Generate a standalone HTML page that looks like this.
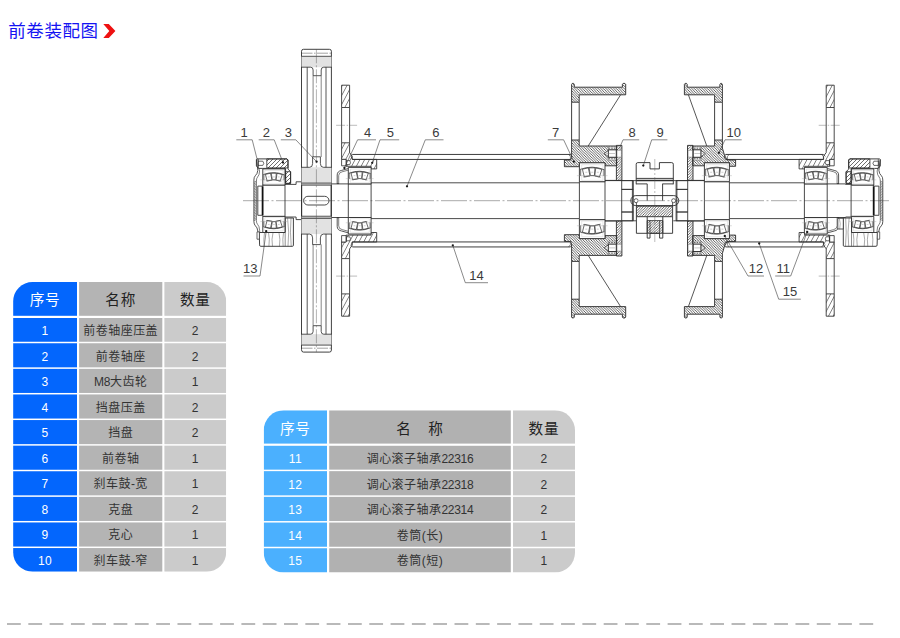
<!DOCTYPE html>
<html lang="zh-CN">
<head>
<meta charset="utf-8">
<title>前卷装配图</title>
<style>
html,body{margin:0;padding:0;background:#fff;}
body{width:900px;height:638px;position:relative;overflow:hidden;font-family:"Liberation Sans","Noto Sans CJK SC",sans-serif;}
.title{position:absolute;left:8.3px;top:19.4px;font-size:17.5px;line-height:24px;color:#1414f2;letter-spacing:0.55px;white-space:nowrap;font-weight:400;}
.chev{position:absolute;left:102px;top:23px;}
.c{position:absolute;text-align:center;font-size:12px;color:#333;white-space:nowrap;letter-spacing:0.45px;}
.hd{font-size:14.6px;color:#222;letter-spacing:0.8px;}
.c0{color:#fff;}
.hd.c0{color:#fff;}
.t1 .b0{fill:#0366fd;}
.t1 .b1{fill:#b4b4b4;}
.t1 .b2{fill:#cbcbcb;}
.t2 .b0{fill:#4bb0fe;}
.t2 .b1{fill:#b1b1b1;}
.t2 .b2{fill:#cbcbcb;}
.dash{position:absolute;left:0;top:622.3px;width:900px;height:4px;}
.n{letter-spacing:-0.3px;}
svg.dr{position:absolute;left:0;top:0;}
</style>
</head>
<body>
<div class="title">前卷装配图</div>
<svg class="chev" width="16" height="16" viewBox="0 0 16 16"><polygon points="1.3,1.1 6.8,1.1 13.4,8 6.8,14.9 1.3,14.9 7.3,8" fill="#ee1111"/></svg>
<svg class="dr" width="900" height="638" viewBox="0 0 900 638">
<defs>
<pattern id="h1" width="4" height="4" patternUnits="userSpaceOnUse"><path d="M-1 5 L5 -1 M-1 1 L1 -1 M3 5 L5 3" stroke="#2e2e2e" stroke-width="0.7" fill="none"/></pattern>
<pattern id="h2" width="2.6" height="2.6" patternUnits="userSpaceOnUse"><path d="M-0.65 -0.65 L3.25 3.25 M-0.65 1.95 L0.65 3.25 M1.95 -0.65 L3.25 0.65" stroke="#2e2e2e" stroke-width="0.75" fill="none"/></pattern>
<pattern id="h3" width="4.2" height="4.2" patternUnits="userSpaceOnUse" patternTransform="rotate(28)"><line x1="2.1" y1="0" x2="2.1" y2="4.2" stroke="#333" stroke-width="0.55"/></pattern>
<pattern id="h4" width="2.6" height="2.6" patternUnits="userSpaceOnUse"><path d="M-0.65 3.25 L3.25 -0.65 M-0.65 0.65 L0.65 -0.65 M1.95 3.25 L3.25 1.95" stroke="#2e2e2e" stroke-width="0.7" fill="none"/></pattern>
</defs>
<line x1="243" y1="200.7" x2="889" y2="200.7" stroke="#555" stroke-width="0.5" stroke-dasharray="26 2.5 2 2.5"/>
<polyline points="257.8,200.7 257.8,186.1 262.8,186.1 262.8,185 285,185 285,184.4 296.1,184.4 296.1,181.8 301.7,181.8 301.7,183.4 331.1,183.4 331.1,183.9 371.1,183.9 371.1,182.8 579.4,182.8 579.4,181.7 605,181.7 605,180.6 633.3,180.6 633.3,200.7" fill="none" stroke="#2b2b2b" stroke-width="0.85" stroke-linejoin="round" />
<polyline points="257.8,200.7 257.8,215.3 262.8,215.3 262.8,216.4 285,216.4 285,217.0 296.1,217.0 296.1,219.6 301.7,219.6 301.7,218.0 331.1,218.0 331.1,217.5 371.1,217.5 371.1,218.6 579.4,218.6 579.4,219.7 605,219.7 605,220.8 633.3,220.8 633.3,200.7" fill="none" stroke="#2b2b2b" stroke-width="0.85" stroke-linejoin="round" />
<line x1="262.6" y1="186.3" x2="262.6" y2="215.1" stroke="#111" stroke-width="1.8" />
<line x1="285" y1="185" x2="285" y2="216.4" stroke="#2b2b2b" stroke-width="0.85" />
<line x1="301.7" y1="181.8" x2="301.7" y2="219.6" stroke="#2b2b2b" stroke-width="0.85" />
<line x1="331.1" y1="183.4" x2="331.1" y2="218.0" stroke="#2b2b2b" stroke-width="0.85" />
<line x1="348.3" y1="183.9" x2="348.3" y2="217.5" stroke="#2b2b2b" stroke-width="0.85" />
<line x1="371.1" y1="183.9" x2="371.1" y2="217.5" stroke="#2b2b2b" stroke-width="0.85" />
<line x1="579.4" y1="182.8" x2="579.4" y2="218.6" stroke="#2b2b2b" stroke-width="0.85" />
<line x1="605" y1="181.7" x2="605" y2="219.7" stroke="#2b2b2b" stroke-width="0.85" />
<line x1="621.7" y1="180.6" x2="621.7" y2="220.8" stroke="#2b2b2b" stroke-width="0.85" />
<line x1="621.7" y1="189.4" x2="633.3" y2="189.4" stroke="#2b2b2b" stroke-width="0.8" />
<line x1="621.7" y1="212.0" x2="633.3" y2="212.0" stroke="#2b2b2b" stroke-width="0.8" />
<rect x="303.6" y="196.3" width="25.4" height="8.7" rx="4.35" fill="none" stroke="#2b2b2b" stroke-width="0.85"/>
<polyline points="676.1,200.7 676.1,180.6 704.4,180.6 704.4,181.7 729.4,181.7 729.4,182.8 804.4,182.8 804.4,183.9 845.6,183.9 845.6,184.4 851.1,184.4 851.1,185 873.4,185 873.4,186.1 878.9,186.1 878.9,200.7" fill="none" stroke="#2b2b2b" stroke-width="0.85" stroke-linejoin="round" />
<polyline points="676.1,200.7 676.1,220.8 704.4,220.8 704.4,219.7 729.4,219.7 729.4,218.6 804.4,218.6 804.4,217.5 845.6,217.5 845.6,217.0 851.1,217.0 851.1,216.4 873.4,216.4 873.4,215.3 878.9,215.3 878.9,200.7" fill="none" stroke="#2b2b2b" stroke-width="0.85" stroke-linejoin="round" />
<line x1="873.7" y1="186.3" x2="873.7" y2="215.1" stroke="#111" stroke-width="1.8" />
<line x1="687.7" y1="180.6" x2="687.7" y2="220.8" stroke="#2b2b2b" stroke-width="0.85" />
<line x1="704.4" y1="181.7" x2="704.4" y2="219.7" stroke="#2b2b2b" stroke-width="0.85" />
<line x1="729.4" y1="182.8" x2="729.4" y2="218.6" stroke="#2b2b2b" stroke-width="0.85" />
<line x1="804.4" y1="183.9" x2="804.4" y2="217.5" stroke="#2b2b2b" stroke-width="0.85" />
<line x1="827.2" y1="183.9" x2="827.2" y2="217.5" stroke="#2b2b2b" stroke-width="0.85" />
<line x1="851.1" y1="185" x2="851.1" y2="216.4" stroke="#2b2b2b" stroke-width="0.85" />
<line x1="676.1" y1="189.4" x2="687.7" y2="189.4" stroke="#2b2b2b" stroke-width="0.8" />
<line x1="676.1" y1="212.0" x2="687.7" y2="212.0" stroke="#2b2b2b" stroke-width="0.8" />
<path d="M301.5 200.7 V51.3 Q301.5 49.3 303.5 49.3 H329.4 Q331.4 49.3 331.4 51.3 V350.1 Q331.4 352.1 329.4 352.1 H303.5 Q301.5 352.1 301.5 350.1 Z" fill="none" stroke="#2b2b2b" stroke-width="0.9" stroke-linejoin="round" stroke-linecap="round" />
<rect x="301.5" y="56.3" width="29.899999999999977" height="10.900000000000006" fill="#e2e2e2" stroke="none"/>
<rect x="301.5" y="167.3" width="29.899999999999977" height="15.699999999999989" fill="#e2e2e2" stroke="none"/>
<rect x="301.5" y="183" width="29.899999999999977" height="2.1999999999999886" fill="#bdbdbd" stroke="none"/>
<rect x="301.5" y="334.2" width="29.899999999999977" height="10.900000000000034" fill="#e2e2e2" stroke="none"/>
<rect x="301.5" y="218.4" width="29.899999999999977" height="15.699999999999989" fill="#e2e2e2" stroke="none"/>
<rect x="301.5" y="216.2" width="29.899999999999977" height="2.200000000000017" fill="#bdbdbd" stroke="none"/>
<line x1="301.5" y1="53.2" x2="331.4" y2="53.2" stroke="#444" stroke-width="0.5" stroke-dasharray="11 1.5 1.5 1.5"/>
<line x1="301.5" y1="348.2" x2="331.4" y2="348.2" stroke="#444" stroke-width="0.5" stroke-dasharray="11 1.5 1.5 1.5"/>
<line x1="301.5" y1="56.3" x2="331.4" y2="56.3" stroke="#2b2b2b" stroke-width="0.8" />
<line x1="301.5" y1="345.1" x2="331.4" y2="345.1" stroke="#2b2b2b" stroke-width="0.8" />
<path d="M301.5 67.2 L310.6 67.2 Q313.1 67.2 313.1 70 L313.1 75.7 321.2 75.7 321.2 70 Q321.2 67.2 323.7 67.2 L331.4 67.2 " fill="none" stroke="#2b2b2b" stroke-width="0.8" stroke-linejoin="round" stroke-linecap="round" />
<path d="M301.5 334.2 L310.6 334.2 Q313.1 334.2 313.1 331.4 L313.1 325.7 321.2 325.7 321.2 331.4 Q321.2 334.2 323.7 334.2 L331.4 334.2 " fill="none" stroke="#2b2b2b" stroke-width="0.8" stroke-linejoin="round" stroke-linecap="round" />
<line x1="307.2" y1="67.2" x2="307.2" y2="167.3" stroke="#2b2b2b" stroke-width="0.8" />
<line x1="307.2" y1="334.2" x2="307.2" y2="234.1" stroke="#2b2b2b" stroke-width="0.8" />
<line x1="326.0" y1="67.2" x2="326.0" y2="167.3" stroke="#2b2b2b" stroke-width="0.8" />
<line x1="326.0" y1="334.2" x2="326.0" y2="234.1" stroke="#2b2b2b" stroke-width="0.8" />
<line x1="313.1" y1="75.7" x2="313.1" y2="157" stroke="#555" stroke-width="0.7" />
<line x1="313.1" y1="325.7" x2="313.1" y2="244.4" stroke="#555" stroke-width="0.7" />
<line x1="321.2" y1="75.7" x2="321.2" y2="157" stroke="#555" stroke-width="0.7" />
<line x1="321.2" y1="325.7" x2="321.2" y2="244.4" stroke="#555" stroke-width="0.7" />
<path d="M301.5 167.3 L309.6 167.3 Q312.6 167.3 312.6 163.5 L312.6 156.8 320.4 156.8 320.4 163.5 Q320.4 167.3 323.4 167.3 L331.4 167.3 " fill="none" stroke="#2b2b2b" stroke-width="0.8" stroke-linejoin="round" stroke-linecap="round" />
<path d="M301.5 234.1 L309.6 234.1 Q312.6 234.1 312.6 237.9 L312.6 244.6 320.4 244.6 320.4 237.9 Q320.4 234.1 323.4 234.1 L331.4 234.1 " fill="none" stroke="#2b2b2b" stroke-width="0.8" stroke-linejoin="round" stroke-linecap="round" />
<line x1="301.5" y1="183" x2="331.4" y2="183" stroke="#2b2b2b" stroke-width="0.7" />
<line x1="301.5" y1="218.4" x2="331.4" y2="218.4" stroke="#2b2b2b" stroke-width="0.7" />
<line x1="301.5" y1="185.2" x2="331.4" y2="185.2" stroke="#2b2b2b" stroke-width="0.7" />
<line x1="301.5" y1="216.2" x2="331.4" y2="216.2" stroke="#2b2b2b" stroke-width="0.7" />
<line x1="316.4" y1="49.3" x2="316.4" y2="352.1" stroke="#555" stroke-width="0.45" stroke-dasharray="14 2 2 2"/>
<polygon points="341.6,85.2 349.6,85.2 349.6,107.5 341.6,107.5" fill="url(#h3)" stroke="#2b2b2b" stroke-width="0.85" stroke-linejoin="round" />
<polygon points="341.6,316.2 349.6,316.2 349.6,293.9 341.6,293.9" fill="url(#h3)" stroke="#2b2b2b" stroke-width="0.85" stroke-linejoin="round" />
<line x1="341.6" y1="107.5" x2="341.6" y2="142.8" stroke="#2b2b2b" stroke-width="0.85" />
<line x1="341.6" y1="293.9" x2="341.6" y2="258.6" stroke="#2b2b2b" stroke-width="0.85" />
<line x1="349.6" y1="107.5" x2="349.6" y2="142.8" stroke="#2b2b2b" stroke-width="0.85" />
<line x1="349.6" y1="293.9" x2="349.6" y2="258.6" stroke="#2b2b2b" stroke-width="0.85" />
<polygon points="341.6,142.8 349.6,142.8 349.6,152.5 352.2,156.2 352.2,159.4 376.7,159.4 376.7,168.9 371.1,168.9 371.1,166.3 349.1,166.3 346.1,166.3 346.1,159.4 341.6,159.4" fill="url(#h3)" stroke="#2b2b2b" stroke-width="0.85" stroke-linejoin="round" />
<polygon points="341.6,258.6 349.6,258.6 349.6,248.9 352.2,245.2 352.2,242.0 376.7,242.0 376.7,232.5 371.1,232.5 371.1,235.1 349.1,235.1 346.1,235.1 346.1,242.0 341.6,242.0" fill="url(#h3)" stroke="#2b2b2b" stroke-width="0.85" stroke-linejoin="round" />
<polygon points="341.6,159.4 346.1,159.4 346.1,165.8 341.6,165.8" fill="#fff" stroke="#2b2b2b" stroke-width="0.8" stroke-linejoin="round" />
<polygon points="341.6,242.0 346.1,242.0 346.1,235.6 341.6,235.6" fill="#fff" stroke="#2b2b2b" stroke-width="0.8" stroke-linejoin="round" />
<path d="M346.8 160.6 L349.8 160.6 Q351.2 162.6 349.8 164.6 L346.8 164.6 Z " fill="#fff" stroke="#2b2b2b" stroke-width="0.7" stroke-linejoin="round" stroke-linecap="round" />
<path d="M346.8 240.8 L349.8 240.8 Q351.2 238.8 349.8 236.8 L346.8 236.8 Z " fill="#fff" stroke="#2b2b2b" stroke-width="0.7" stroke-linejoin="round" stroke-linecap="round" />
<line x1="336.1" y1="125.3" x2="357.1" y2="125.3" stroke="#555" stroke-width="0.4" stroke-dasharray="9 1.5 1.5 1.5"/>
<line x1="336.1" y1="276.1" x2="357.1" y2="276.1" stroke="#555" stroke-width="0.4" stroke-dasharray="9 1.5 1.5 1.5"/>
<path d="M337.2 183.6 L337.2 175 Q337.2 171.2 341.6 170.4 L348.1 168.6 " fill="none" stroke="#2b2b2b" stroke-width="0.8" stroke-linejoin="round" stroke-linecap="round" />
<path d="M337.2 217.8 L337.2 226.4 Q337.2 230.2 341.6 231.0 L348.1 232.8 " fill="none" stroke="#2b2b2b" stroke-width="0.8" stroke-linejoin="round" stroke-linecap="round" />
<path d="M338.7 183.6 L338.7 175.6 Q338.7 172.4 342.1 171.8 L348.1 170.2 " fill="none" stroke="#2b2b2b" stroke-width="0.6" stroke-linejoin="round" stroke-linecap="round" />
<path d="M338.7 217.8 L338.7 225.8 Q338.7 229.0 342.1 229.6 L348.1 231.2 " fill="none" stroke="#2b2b2b" stroke-width="0.6" stroke-linejoin="round" stroke-linecap="round" />
<line x1="337.20000000000005" y1="183.6" x2="338.70000000000005" y2="183.6" stroke="#2b2b2b" stroke-width="0.7" />
<line x1="337.20000000000005" y1="217.8" x2="338.70000000000005" y2="217.8" stroke="#2b2b2b" stroke-width="0.7" />
<polygon points="834.2,85.2 826.2,85.2 826.2,107.5 834.2,107.5" fill="url(#h3)" stroke="#2b2b2b" stroke-width="0.85" stroke-linejoin="round" />
<polygon points="834.2,316.2 826.2,316.2 826.2,293.9 834.2,293.9" fill="url(#h3)" stroke="#2b2b2b" stroke-width="0.85" stroke-linejoin="round" />
<line x1="834.2" y1="107.5" x2="834.2" y2="142.8" stroke="#2b2b2b" stroke-width="0.85" />
<line x1="834.2" y1="293.9" x2="834.2" y2="258.6" stroke="#2b2b2b" stroke-width="0.85" />
<line x1="826.2" y1="107.5" x2="826.2" y2="142.8" stroke="#2b2b2b" stroke-width="0.85" />
<line x1="826.2" y1="293.9" x2="826.2" y2="258.6" stroke="#2b2b2b" stroke-width="0.85" />
<polygon points="834.2,142.8 826.2,142.8 826.2,152.5 823.6,156.2 823.6,159.4 799.1,159.4 799.1,168.9 804.7,168.9 804.7,166.3 826.7,166.3 829.7,166.3 829.7,159.4 834.2,159.4" fill="url(#h3)" stroke="#2b2b2b" stroke-width="0.85" stroke-linejoin="round" />
<polygon points="834.2,258.6 826.2,258.6 826.2,248.9 823.6,245.2 823.6,242.0 799.1,242.0 799.1,232.5 804.7,232.5 804.7,235.1 826.7,235.1 829.7,235.1 829.7,242.0 834.2,242.0" fill="url(#h3)" stroke="#2b2b2b" stroke-width="0.85" stroke-linejoin="round" />
<polygon points="834.2,159.4 829.7,159.4 829.7,165.8 834.2,165.8" fill="#fff" stroke="#2b2b2b" stroke-width="0.8" stroke-linejoin="round" />
<polygon points="834.2,242.0 829.7,242.0 829.7,235.6 834.2,235.6" fill="#fff" stroke="#2b2b2b" stroke-width="0.8" stroke-linejoin="round" />
<path d="M829.0 160.6 L826.0 160.6 Q824.6 162.6 826.0 164.6 L829.0 164.6 Z " fill="#fff" stroke="#2b2b2b" stroke-width="0.7" stroke-linejoin="round" stroke-linecap="round" />
<path d="M829.0 240.8 L826.0 240.8 Q824.6 238.8 826.0 236.8 L829.0 236.8 Z " fill="#fff" stroke="#2b2b2b" stroke-width="0.7" stroke-linejoin="round" stroke-linecap="round" />
<line x1="839.7" y1="125.3" x2="818.7" y2="125.3" stroke="#555" stroke-width="0.4" stroke-dasharray="9 1.5 1.5 1.5"/>
<line x1="839.7" y1="276.1" x2="818.7" y2="276.1" stroke="#555" stroke-width="0.4" stroke-dasharray="9 1.5 1.5 1.5"/>
<path d="M838.6 183.6 L838.6 175 Q838.6 171.2 834.2 170.4 L827.7 168.6 " fill="none" stroke="#2b2b2b" stroke-width="0.8" stroke-linejoin="round" stroke-linecap="round" />
<path d="M838.6 217.8 L838.6 226.4 Q838.6 230.2 834.2 231.0 L827.7 232.8 " fill="none" stroke="#2b2b2b" stroke-width="0.8" stroke-linejoin="round" stroke-linecap="round" />
<path d="M837.1 183.6 L837.1 175.6 Q837.1 172.4 833.7 171.8 L827.7 170.2 " fill="none" stroke="#2b2b2b" stroke-width="0.6" stroke-linejoin="round" stroke-linecap="round" />
<path d="M837.1 217.8 L837.1 225.8 Q837.1 229.0 833.7 229.6 L827.7 231.2 " fill="none" stroke="#2b2b2b" stroke-width="0.6" stroke-linejoin="round" stroke-linecap="round" />
<line x1="838.6" y1="183.6" x2="837.1" y2="183.6" stroke="#2b2b2b" stroke-width="0.7" />
<line x1="838.6" y1="217.8" x2="837.1" y2="217.8" stroke="#2b2b2b" stroke-width="0.7" />
<polygon points="348.3,167.4 371.1,167.4 371.1,183.9 348.3,183.9" fill="#fff" stroke="#2b2b2b" stroke-width="0.9" stroke-linejoin="round" />
<polygon points="348.3,234.0 371.1,234.0 371.1,217.5 348.3,217.5" fill="#fff" stroke="#2b2b2b" stroke-width="0.9" stroke-linejoin="round" />
<polygon points="350.35,169.05 369.28,169.05 369.28,182.75 350.35,182.75" fill="none" stroke="#c4c4c4" stroke-width="0.4" stroke-linejoin="round" />
<polygon points="350.35,232.35 369.28,232.35 369.28,218.65 350.35,218.65" fill="none" stroke="#c4c4c4" stroke-width="0.4" stroke-linejoin="round" />
<polygon points="350.97,173.01 356.23,171.81 357.74,178.88 352.75,179.84" fill="#fff" stroke="#2b2b2b" stroke-width="0.7" stroke-linejoin="round" />
<polygon points="350.97,228.39 356.23,229.59 357.74,222.52 352.75,221.56" fill="#fff" stroke="#2b2b2b" stroke-width="0.7" stroke-linejoin="round" />
<polygon points="356.94,171.81 362.19,171.81 361.66,178.54 358.1,178.54" fill="#fff" stroke="#2b2b2b" stroke-width="0.7" stroke-linejoin="round" />
<polygon points="356.94,229.59 362.19,229.59 361.66,222.86 358.1,222.86" fill="#fff" stroke="#2b2b2b" stroke-width="0.7" stroke-linejoin="round" />
<polygon points="362.89,171.89 368.34,173.11 366.08,179.84 361.98,178.88" fill="#fff" stroke="#2b2b2b" stroke-width="0.7" stroke-linejoin="round" />
<polygon points="362.89,229.51 368.34,228.29 366.08,221.56 361.98,222.52" fill="#fff" stroke="#2b2b2b" stroke-width="0.7" stroke-linejoin="round" />
<path d="M349.33 173.01 Q359.7 169.13 370.12 173.34 " fill="none" stroke="#2b2b2b" stroke-width="0.7" stroke-linejoin="round" stroke-linecap="round" />
<path d="M349.33 228.39 Q359.7 232.27 370.12 228.06 " fill="none" stroke="#2b2b2b" stroke-width="0.7" stroke-linejoin="round" stroke-linecap="round" />
<path d="M352.04 179.69 Q359.7 177.13 367.0 179.94 " fill="none" stroke="#555" stroke-width="0.6" stroke-linejoin="round" stroke-linecap="round" />
<path d="M352.04 221.71 Q359.7 224.26 367.0 221.46 " fill="none" stroke="#555" stroke-width="0.6" stroke-linejoin="round" stroke-linecap="round" />
<line x1="349.326" y1="173.01000000000002" x2="349.326" y2="178.95000000000002" stroke="#2b2b2b" stroke-width="0.6" />
<line x1="349.326" y1="228.39" x2="349.326" y2="222.45" stroke="#2b2b2b" stroke-width="0.6" />
<line x1="370.1196" y1="173.34" x2="370.1196" y2="178.95000000000002" stroke="#2b2b2b" stroke-width="0.6" />
<line x1="370.1196" y1="228.06" x2="370.1196" y2="222.45" stroke="#2b2b2b" stroke-width="0.6" />
<line x1="345.8" y1="178.62" x2="373.6" y2="178.62" stroke="#999" stroke-width="0.35" />
<line x1="345.8" y1="222.78" x2="373.6" y2="222.78" stroke="#999" stroke-width="0.35" />
<line x1="353.54400000000004" y1="175.65" x2="355.368" y2="175.65" stroke="#777" stroke-width="0.35" />
<line x1="353.54400000000004" y1="225.75" x2="355.368" y2="225.75" stroke="#777" stroke-width="0.35" />
<line x1="358.788" y1="175.65" x2="360.612" y2="175.65" stroke="#777" stroke-width="0.35" />
<line x1="358.788" y1="225.75" x2="360.612" y2="225.75" stroke="#777" stroke-width="0.35" />
<line x1="363.80400000000003" y1="175.65" x2="365.62800000000004" y2="175.65" stroke="#777" stroke-width="0.35" />
<line x1="363.80400000000003" y1="225.75" x2="365.62800000000004" y2="225.75" stroke="#777" stroke-width="0.35" />
<polygon points="804.4,167.4 827.2,167.4 827.2,183.9 804.4,183.9" fill="#fff" stroke="#2b2b2b" stroke-width="0.9" stroke-linejoin="round" />
<polygon points="804.4,234.0 827.2,234.0 827.2,217.5 804.4,217.5" fill="#fff" stroke="#2b2b2b" stroke-width="0.9" stroke-linejoin="round" />
<polygon points="806.45,169.05 825.38,169.05 825.38,182.75 806.45,182.75" fill="none" stroke="#c4c4c4" stroke-width="0.4" stroke-linejoin="round" />
<polygon points="806.45,232.35 825.38,232.35 825.38,218.65 806.45,218.65" fill="none" stroke="#c4c4c4" stroke-width="0.4" stroke-linejoin="round" />
<polygon points="807.07,173.01 812.33,171.81 813.84,178.88 808.85,179.84" fill="#fff" stroke="#2b2b2b" stroke-width="0.7" stroke-linejoin="round" />
<polygon points="807.07,228.39 812.33,229.59 813.84,222.52 808.85,221.56" fill="#fff" stroke="#2b2b2b" stroke-width="0.7" stroke-linejoin="round" />
<polygon points="813.04,171.81 818.29,171.81 817.76,178.54 814.2,178.54" fill="#fff" stroke="#2b2b2b" stroke-width="0.7" stroke-linejoin="round" />
<polygon points="813.04,229.59 818.29,229.59 817.76,222.86 814.2,222.86" fill="#fff" stroke="#2b2b2b" stroke-width="0.7" stroke-linejoin="round" />
<polygon points="818.99,171.89 824.44,173.11 822.18,179.84 818.08,178.88" fill="#fff" stroke="#2b2b2b" stroke-width="0.7" stroke-linejoin="round" />
<polygon points="818.99,229.51 824.44,228.29 822.18,221.56 818.08,222.52" fill="#fff" stroke="#2b2b2b" stroke-width="0.7" stroke-linejoin="round" />
<path d="M805.43 173.01 Q815.8 169.13 826.22 173.34 " fill="none" stroke="#2b2b2b" stroke-width="0.7" stroke-linejoin="round" stroke-linecap="round" />
<path d="M805.43 228.39 Q815.8 232.27 826.22 228.06 " fill="none" stroke="#2b2b2b" stroke-width="0.7" stroke-linejoin="round" stroke-linecap="round" />
<path d="M808.14 179.69 Q815.8 177.13 823.1 179.94 " fill="none" stroke="#555" stroke-width="0.6" stroke-linejoin="round" stroke-linecap="round" />
<path d="M808.14 221.71 Q815.8 224.26 823.1 221.46 " fill="none" stroke="#555" stroke-width="0.6" stroke-linejoin="round" stroke-linecap="round" />
<line x1="805.4259999999999" y1="173.01000000000002" x2="805.4259999999999" y2="178.95000000000002" stroke="#2b2b2b" stroke-width="0.6" />
<line x1="805.4259999999999" y1="228.39" x2="805.4259999999999" y2="222.45" stroke="#2b2b2b" stroke-width="0.6" />
<line x1="826.2196" y1="173.34" x2="826.2196" y2="178.95000000000002" stroke="#2b2b2b" stroke-width="0.6" />
<line x1="826.2196" y1="228.06" x2="826.2196" y2="222.45" stroke="#2b2b2b" stroke-width="0.6" />
<line x1="801.9" y1="178.62" x2="829.7" y2="178.62" stroke="#999" stroke-width="0.35" />
<line x1="801.9" y1="222.78" x2="829.7" y2="222.78" stroke="#999" stroke-width="0.35" />
<line x1="809.644" y1="175.65" x2="811.468" y2="175.65" stroke="#777" stroke-width="0.35" />
<line x1="809.644" y1="225.75" x2="811.468" y2="225.75" stroke="#777" stroke-width="0.35" />
<line x1="814.888" y1="175.65" x2="816.712" y2="175.65" stroke="#777" stroke-width="0.35" />
<line x1="814.888" y1="225.75" x2="816.712" y2="225.75" stroke="#777" stroke-width="0.35" />
<line x1="819.904" y1="175.65" x2="821.7280000000001" y2="175.65" stroke="#777" stroke-width="0.35" />
<line x1="819.904" y1="225.75" x2="821.7280000000001" y2="225.75" stroke="#777" stroke-width="0.35" />
<line x1="352.4" y1="154.45" x2="570.4" y2="154.45" stroke="#333" stroke-width="0.95" />
<line x1="352.4" y1="246.95" x2="570.4" y2="246.95" stroke="#333" stroke-width="0.95" />
<line x1="725.6" y1="154.45" x2="823.4" y2="154.45" stroke="#333" stroke-width="0.95" />
<line x1="725.6" y1="246.95" x2="823.4" y2="246.95" stroke="#333" stroke-width="0.95" />
<line x1="352.4" y1="159.45" x2="570.4" y2="159.45" stroke="#333" stroke-width="0.95" />
<line x1="352.4" y1="241.95" x2="570.4" y2="241.95" stroke="#333" stroke-width="0.95" />
<line x1="725.6" y1="159.45" x2="823.4" y2="159.45" stroke="#333" stroke-width="0.95" />
<line x1="725.6" y1="241.95" x2="823.4" y2="241.95" stroke="#333" stroke-width="0.95" />
<polyline points="352.4,154.45 351,156 352.4,159.45" fill="none" stroke="#2b2b2b" stroke-width="0.7" stroke-linejoin="round" />
<polyline points="352.4,246.95 351,245.4 352.4,241.95" fill="none" stroke="#2b2b2b" stroke-width="0.7" stroke-linejoin="round" />
<polyline points="570.4,154.45 572,156.4" fill="none" stroke="#2b2b2b" stroke-width="0.7" stroke-linejoin="round" />
<polyline points="570.4,246.95 572,245.0" fill="none" stroke="#2b2b2b" stroke-width="0.7" stroke-linejoin="round" />
<polyline points="568.6,154.45 570.4,156.6 570.4,159.45" fill="none" stroke="#2b2b2b" stroke-width="0.6" stroke-linejoin="round" />
<polyline points="568.6,246.95 570.4,244.8 570.4,241.95" fill="none" stroke="#2b2b2b" stroke-width="0.6" stroke-linejoin="round" />
<polyline points="725.6,159.45 724.2,157 725.6,154.45" fill="none" stroke="#2b2b2b" stroke-width="0.7" stroke-linejoin="round" />
<polyline points="725.6,241.95 724.2,244.4 725.6,246.95" fill="none" stroke="#2b2b2b" stroke-width="0.7" stroke-linejoin="round" />
<polyline points="727.4,159.45 727.4,156.6 729,154.45" fill="none" stroke="#2b2b2b" stroke-width="0.6" stroke-linejoin="round" />
<polyline points="727.4,241.95 727.4,244.8 729,246.95" fill="none" stroke="#2b2b2b" stroke-width="0.6" stroke-linejoin="round" />
<polyline points="823.4,154.45 825.4,156.4" fill="none" stroke="#2b2b2b" stroke-width="0.7" stroke-linejoin="round" />
<polyline points="823.4,246.95 825.4,245.0" fill="none" stroke="#2b2b2b" stroke-width="0.7" stroke-linejoin="round" />
<polyline points="821.6,154.45 823.4,156.6 823.4,159.45" fill="none" stroke="#2b2b2b" stroke-width="0.6" stroke-linejoin="round" />
<polyline points="821.6,246.95 823.4,244.8 823.4,241.95" fill="none" stroke="#2b2b2b" stroke-width="0.6" stroke-linejoin="round" />
<polygon points="257,158.9 287,158.9 288,160 288,169.2 290.6,171.7 290.6,183.4 285.6,183.4 285.6,168.4 262.2,168.4 258.6,168.4 256.4,166 256.4,159.6" fill="#fff" stroke="#2b2b2b" stroke-width="0.9" stroke-linejoin="round" />
<polygon points="266.8,158.9 287,158.9 288,160 288,167.9 266.8,167.9" fill="url(#h1)" stroke="#2b2b2b" stroke-width="0.8" stroke-linejoin="round" />
<polygon points="285.6,171.7 290.6,171.7 290.6,183.4 285.6,183.4" fill="url(#h1)" stroke="#2b2b2b" stroke-width="0.8" stroke-linejoin="round" />
<path d="M258.4 161.2 H262.8 Q264.8 163.3 262.8 165.4 H258.4 Z" fill="#fff" stroke="#2b2b2b" stroke-width="0.7" stroke-linejoin="round" stroke-linecap="round" />
<line x1="258.4" y1="159.2" x2="258.4" y2="168.2" stroke="#2b2b2b" stroke-width="0.7" />
<path d="M256.6 160 L257.8 170.4 Q257.4 174 255.4 175.6 Q253.9 177 253.9 180 V221.4 Q253.9 224.4 255.4 225.8 Q257.4 227.4 257.8 231.0 L258.6 235.4" fill="none" stroke="#2b2b2b" stroke-width="0.8" stroke-linejoin="round" stroke-linecap="round" />
<path d="M258.8 168.6 L259.6 171 Q259.4 175.4 257.6 177 Q256.4 178.2 256.4 181 V220.4 Q256.4 223.2 257.6 224.4 Q259.4 226.0 259.6 230.4 L259.8 232.5" fill="none" stroke="#2b2b2b" stroke-width="0.6" stroke-linejoin="round" stroke-linecap="round" />
<line x1="253.9" y1="182.3" x2="256.4" y2="181" stroke="#333" stroke-width="0.5" />
<line x1="253.9" y1="183.9" x2="256.4" y2="182.6" stroke="#333" stroke-width="0.5" />
<line x1="253.9" y1="185.5" x2="256.4" y2="184.2" stroke="#333" stroke-width="0.5" />
<line x1="253.9" y1="187.1" x2="256.4" y2="185.79999999999998" stroke="#333" stroke-width="0.5" />
<line x1="253.9" y1="188.7" x2="256.4" y2="187.39999999999998" stroke="#333" stroke-width="0.5" />
<line x1="253.9" y1="190.29999999999998" x2="256.4" y2="188.99999999999997" stroke="#333" stroke-width="0.5" />
<line x1="253.9" y1="191.89999999999998" x2="256.4" y2="190.59999999999997" stroke="#333" stroke-width="0.5" />
<line x1="253.9" y1="193.49999999999997" x2="256.4" y2="192.19999999999996" stroke="#333" stroke-width="0.5" />
<line x1="253.9" y1="195.09999999999997" x2="256.4" y2="193.79999999999995" stroke="#333" stroke-width="0.5" />
<line x1="253.9" y1="196.69999999999996" x2="256.4" y2="195.39999999999995" stroke="#333" stroke-width="0.5" />
<line x1="253.9" y1="198.29999999999995" x2="256.4" y2="196.99999999999994" stroke="#333" stroke-width="0.5" />
<line x1="253.9" y1="199.89999999999995" x2="256.4" y2="198.59999999999994" stroke="#333" stroke-width="0.5" />
<line x1="253.9" y1="201.49999999999994" x2="256.4" y2="200.19999999999993" stroke="#333" stroke-width="0.5" />
<line x1="253.9" y1="203.09999999999994" x2="256.4" y2="201.79999999999993" stroke="#333" stroke-width="0.5" />
<line x1="253.9" y1="204.69999999999993" x2="256.4" y2="203.39999999999992" stroke="#333" stroke-width="0.5" />
<line x1="253.9" y1="206.29999999999993" x2="256.4" y2="204.99999999999991" stroke="#333" stroke-width="0.5" />
<line x1="253.9" y1="207.89999999999992" x2="256.4" y2="206.5999999999999" stroke="#333" stroke-width="0.5" />
<line x1="253.9" y1="209.49999999999991" x2="256.4" y2="208.1999999999999" stroke="#333" stroke-width="0.5" />
<line x1="253.9" y1="211.0999999999999" x2="256.4" y2="209.7999999999999" stroke="#333" stroke-width="0.5" />
<line x1="253.9" y1="212.6999999999999" x2="256.4" y2="211.3999999999999" stroke="#333" stroke-width="0.5" />
<line x1="253.9" y1="214.2999999999999" x2="256.4" y2="212.9999999999999" stroke="#333" stroke-width="0.5" />
<line x1="253.9" y1="215.8999999999999" x2="256.4" y2="214.59999999999988" stroke="#333" stroke-width="0.5" />
<line x1="253.9" y1="217.4999999999999" x2="256.4" y2="216.19999999999987" stroke="#333" stroke-width="0.5" />
<line x1="253.9" y1="219.09999999999988" x2="256.4" y2="217.79999999999987" stroke="#333" stroke-width="0.5" />
<line x1="253.9" y1="220.69999999999987" x2="256.4" y2="219.39999999999986" stroke="#333" stroke-width="0.5" />
<path d="M259.6 232.5 H285.2 V218.0 H293.4 V245.3 Q293.4 246.3 292.4 246.3 H260.6 Q259.6 246.3 259.6 245.3 Z" fill="#fff" stroke="#2b2b2b" stroke-width="0.9" stroke-linejoin="round" stroke-linecap="round" />
<path d="M264.5 232.5 Q263.3 239.4 264.14 246.3" fill="none" stroke="#555" stroke-width="0.5" stroke-linejoin="round" stroke-linecap="round" />
<path d="M268.5 232.5 Q270.0 239.4 268.95 246.3" fill="none" stroke="#555" stroke-width="0.5" stroke-linejoin="round" stroke-linecap="round" />
<path d="M273 232.5 Q271.2 239.4 272.46 246.3" fill="none" stroke="#555" stroke-width="0.5" stroke-linejoin="round" stroke-linecap="round" />
<path d="M279 232.5 Q280.6 239.4 279.48 246.3" fill="none" stroke="#555" stroke-width="0.5" stroke-linejoin="round" stroke-linecap="round" />
<path d="M283.5 232.5 Q282.3 239.4 283.14 246.3" fill="none" stroke="#555" stroke-width="0.5" stroke-linejoin="round" stroke-linecap="round" />
<path d="M287.6 218.0 Q289.6 232.15 288 246.3" fill="none" stroke="#555" stroke-width="0.5" stroke-linejoin="round" stroke-linecap="round" />
<path d="M291 218.0 Q289.8 232.15 291.2 246.3" fill="none" stroke="#555" stroke-width="0.5" stroke-linejoin="round" stroke-linecap="round" />
<line x1="285.2" y1="232.5" x2="285.2" y2="246.3" stroke="#444" stroke-width="0.6" />
<polygon points="257,231.9 259.4,231.9 259.4,239.2 257,239.2" fill="#fff" stroke="#2b2b2b" stroke-width="0.7" stroke-linejoin="round" />
<polygon points="879.7,158.9 849.7,158.9 848.7,160 848.7,169.2 846.1,171.7 846.1,183.4 851.1,183.4 851.1,168.4 874.5,168.4 878.1,168.4 880.3,166 880.3,159.6" fill="#fff" stroke="#2b2b2b" stroke-width="0.9" stroke-linejoin="round" />
<polygon points="869.9,158.9 849.7,158.9 848.7,160 848.7,167.9 869.9,167.9" fill="url(#h1)" stroke="#2b2b2b" stroke-width="0.8" stroke-linejoin="round" />
<polygon points="851.1,171.7 846.1,171.7 846.1,183.4 851.1,183.4" fill="url(#h1)" stroke="#2b2b2b" stroke-width="0.8" stroke-linejoin="round" />
<path d="M878.3 161.2 H873.9 Q871.9 163.3 873.9 165.4 H878.3 Z" fill="#fff" stroke="#2b2b2b" stroke-width="0.7" stroke-linejoin="round" stroke-linecap="round" />
<line x1="878.3" y1="159.2" x2="878.3" y2="168.2" stroke="#2b2b2b" stroke-width="0.7" />
<path d="M880.1 160 L878.9 170.4 Q879.3 174 881.3 175.6 Q882.8 177 882.8 180 V221.4 Q882.8 224.4 881.3 225.8 Q879.3 227.4 878.9 231.0 L878.1 235.4" fill="none" stroke="#2b2b2b" stroke-width="0.8" stroke-linejoin="round" stroke-linecap="round" />
<path d="M877.9 168.6 L877.1 171 Q877.3 175.4 879.1 177 Q880.3 178.2 880.3 181 V220.4 Q880.3 223.2 879.1 224.4 Q877.3 226.0 877.1 230.4 L876.9 232.5" fill="none" stroke="#2b2b2b" stroke-width="0.6" stroke-linejoin="round" stroke-linecap="round" />
<line x1="882.8" y1="182.3" x2="880.3" y2="181" stroke="#333" stroke-width="0.5" />
<line x1="882.8" y1="183.9" x2="880.3" y2="182.6" stroke="#333" stroke-width="0.5" />
<line x1="882.8" y1="185.5" x2="880.3" y2="184.2" stroke="#333" stroke-width="0.5" />
<line x1="882.8" y1="187.1" x2="880.3" y2="185.79999999999998" stroke="#333" stroke-width="0.5" />
<line x1="882.8" y1="188.7" x2="880.3" y2="187.39999999999998" stroke="#333" stroke-width="0.5" />
<line x1="882.8" y1="190.29999999999998" x2="880.3" y2="188.99999999999997" stroke="#333" stroke-width="0.5" />
<line x1="882.8" y1="191.89999999999998" x2="880.3" y2="190.59999999999997" stroke="#333" stroke-width="0.5" />
<line x1="882.8" y1="193.49999999999997" x2="880.3" y2="192.19999999999996" stroke="#333" stroke-width="0.5" />
<line x1="882.8" y1="195.09999999999997" x2="880.3" y2="193.79999999999995" stroke="#333" stroke-width="0.5" />
<line x1="882.8" y1="196.69999999999996" x2="880.3" y2="195.39999999999995" stroke="#333" stroke-width="0.5" />
<line x1="882.8" y1="198.29999999999995" x2="880.3" y2="196.99999999999994" stroke="#333" stroke-width="0.5" />
<line x1="882.8" y1="199.89999999999995" x2="880.3" y2="198.59999999999994" stroke="#333" stroke-width="0.5" />
<line x1="882.8" y1="201.49999999999994" x2="880.3" y2="200.19999999999993" stroke="#333" stroke-width="0.5" />
<line x1="882.8" y1="203.09999999999994" x2="880.3" y2="201.79999999999993" stroke="#333" stroke-width="0.5" />
<line x1="882.8" y1="204.69999999999993" x2="880.3" y2="203.39999999999992" stroke="#333" stroke-width="0.5" />
<line x1="882.8" y1="206.29999999999993" x2="880.3" y2="204.99999999999991" stroke="#333" stroke-width="0.5" />
<line x1="882.8" y1="207.89999999999992" x2="880.3" y2="206.5999999999999" stroke="#333" stroke-width="0.5" />
<line x1="882.8" y1="209.49999999999991" x2="880.3" y2="208.1999999999999" stroke="#333" stroke-width="0.5" />
<line x1="882.8" y1="211.0999999999999" x2="880.3" y2="209.7999999999999" stroke="#333" stroke-width="0.5" />
<line x1="882.8" y1="212.6999999999999" x2="880.3" y2="211.3999999999999" stroke="#333" stroke-width="0.5" />
<line x1="882.8" y1="214.2999999999999" x2="880.3" y2="212.9999999999999" stroke="#333" stroke-width="0.5" />
<line x1="882.8" y1="215.8999999999999" x2="880.3" y2="214.59999999999988" stroke="#333" stroke-width="0.5" />
<line x1="882.8" y1="217.4999999999999" x2="880.3" y2="216.19999999999987" stroke="#333" stroke-width="0.5" />
<line x1="882.8" y1="219.09999999999988" x2="880.3" y2="217.79999999999987" stroke="#333" stroke-width="0.5" />
<line x1="882.8" y1="220.69999999999987" x2="880.3" y2="219.39999999999986" stroke="#333" stroke-width="0.5" />
<path d="M877.1 232.5 H851.5 V218.0 H843.3 V245.3 Q843.3 246.3 844.3 246.3 H876.1 Q877.1 246.3 877.1 245.3 Z" fill="#fff" stroke="#2b2b2b" stroke-width="0.9" stroke-linejoin="round" stroke-linecap="round" />
<path d="M872.2 232.5 Q873.4 239.4 872.56 246.3" fill="none" stroke="#555" stroke-width="0.5" stroke-linejoin="round" stroke-linecap="round" />
<path d="M868.2 232.5 Q866.7 239.4 867.75 246.3" fill="none" stroke="#555" stroke-width="0.5" stroke-linejoin="round" stroke-linecap="round" />
<path d="M863.7 232.5 Q865.5 239.4 864.24 246.3" fill="none" stroke="#555" stroke-width="0.5" stroke-linejoin="round" stroke-linecap="round" />
<path d="M857.7 232.5 Q856.1 239.4 857.22 246.3" fill="none" stroke="#555" stroke-width="0.5" stroke-linejoin="round" stroke-linecap="round" />
<path d="M853.2 232.5 Q854.4 239.4 853.56 246.3" fill="none" stroke="#555" stroke-width="0.5" stroke-linejoin="round" stroke-linecap="round" />
<path d="M849.1 218.0 Q847.1 232.15 848.7 246.3" fill="none" stroke="#555" stroke-width="0.5" stroke-linejoin="round" stroke-linecap="round" />
<path d="M845.7 218.0 Q846.9 232.15 845.5 246.3" fill="none" stroke="#555" stroke-width="0.5" stroke-linejoin="round" stroke-linecap="round" />
<line x1="851.5" y1="232.5" x2="851.5" y2="246.3" stroke="#444" stroke-width="0.6" />
<polygon points="879.7,231.9 877.3,231.9 877.3,239.2 879.7,239.2" fill="#fff" stroke="#2b2b2b" stroke-width="0.7" stroke-linejoin="round" />
<polygon points="837.8,218.3 843.3,218.3 843.3,229 837.8,229" fill="#fff" stroke="#2b2b2b" stroke-width="0.8" stroke-linejoin="round" />
<path d="M839.4 218.5 Q841 223.5 839.8 228.8" fill="none" stroke="#555" stroke-width="0.45" stroke-linejoin="round" stroke-linecap="round" />
<polygon points="262.8,168.9 285,168.9 285,185 262.8,185" fill="#fff" stroke="#2b2b2b" stroke-width="0.9" stroke-linejoin="round" />
<polygon points="262.8,232.5 285,232.5 285,216.4 262.8,216.4" fill="#fff" stroke="#2b2b2b" stroke-width="0.9" stroke-linejoin="round" />
<polygon points="264.8,170.51 283.22,170.51 283.22,183.87 264.8,183.87" fill="none" stroke="#c4c4c4" stroke-width="0.4" stroke-linejoin="round" />
<polygon points="264.8,230.89 283.22,230.89 283.22,217.53 264.8,217.53" fill="none" stroke="#c4c4c4" stroke-width="0.4" stroke-linejoin="round" />
<polygon points="265.4,174.37 270.53,173.2 271.99,180.11 267.13,181.04" fill="#fff" stroke="#2b2b2b" stroke-width="0.7" stroke-linejoin="round" />
<polygon points="265.4,227.03 270.53,228.2 271.99,221.29 267.13,220.36" fill="#fff" stroke="#2b2b2b" stroke-width="0.7" stroke-linejoin="round" />
<polygon points="271.21,173.2 276.32,173.2 275.81,179.77 272.35,179.77" fill="#fff" stroke="#2b2b2b" stroke-width="0.7" stroke-linejoin="round" />
<polygon points="271.21,228.2 276.32,228.2 275.81,221.63 272.35,221.63" fill="#fff" stroke="#2b2b2b" stroke-width="0.7" stroke-linejoin="round" />
<polygon points="277.01,173.28 282.31,174.47 280.12,181.04 276.12,180.11" fill="#fff" stroke="#2b2b2b" stroke-width="0.7" stroke-linejoin="round" />
<polygon points="277.01,228.12 282.31,226.93 280.12,220.36 276.12,221.29" fill="#fff" stroke="#2b2b2b" stroke-width="0.7" stroke-linejoin="round" />
<path d="M263.8 174.37 Q273.9 170.59 284.05 174.7 " fill="none" stroke="#2b2b2b" stroke-width="0.7" stroke-linejoin="round" stroke-linecap="round" />
<path d="M263.8 227.03 Q273.9 230.81 284.05 226.7 " fill="none" stroke="#2b2b2b" stroke-width="0.7" stroke-linejoin="round" stroke-linecap="round" />
<path d="M266.44 180.89 Q273.9 178.4 281.0 181.14 " fill="none" stroke="#555" stroke-width="0.6" stroke-linejoin="round" stroke-linecap="round" />
<path d="M266.44 220.51 Q273.9 223.0 281.0 220.26 " fill="none" stroke="#555" stroke-width="0.6" stroke-linejoin="round" stroke-linecap="round" />
<line x1="263.79900000000004" y1="174.374" x2="263.79900000000004" y2="180.17000000000002" stroke="#2b2b2b" stroke-width="0.6" />
<line x1="263.79900000000004" y1="227.03" x2="263.79900000000004" y2="221.23" stroke="#2b2b2b" stroke-width="0.6" />
<line x1="284.0454" y1="174.696" x2="284.0454" y2="180.17000000000002" stroke="#2b2b2b" stroke-width="0.6" />
<line x1="284.0454" y1="226.7" x2="284.0454" y2="221.23" stroke="#2b2b2b" stroke-width="0.6" />
<line x1="260.3" y1="179.848" x2="287.5" y2="179.848" stroke="#999" stroke-width="0.35" />
<line x1="260.3" y1="221.55" x2="287.5" y2="221.55" stroke="#999" stroke-width="0.35" />
<line x1="267.906" y1="176.95" x2="269.682" y2="176.95" stroke="#777" stroke-width="0.35" />
<line x1="267.906" y1="224.45" x2="269.682" y2="224.45" stroke="#777" stroke-width="0.35" />
<line x1="273.012" y1="176.95" x2="274.788" y2="176.95" stroke="#777" stroke-width="0.35" />
<line x1="273.012" y1="224.45" x2="274.788" y2="224.45" stroke="#777" stroke-width="0.35" />
<line x1="277.896" y1="176.95" x2="279.672" y2="176.95" stroke="#777" stroke-width="0.35" />
<line x1="277.896" y1="224.45" x2="279.672" y2="224.45" stroke="#777" stroke-width="0.35" />
<polygon points="851.6,168.9 873.8,168.9 873.8,185 851.6,185" fill="#fff" stroke="#2b2b2b" stroke-width="0.9" stroke-linejoin="round" />
<polygon points="851.6,232.5 873.8,232.5 873.8,216.4 851.6,216.4" fill="#fff" stroke="#2b2b2b" stroke-width="0.9" stroke-linejoin="round" />
<polygon points="853.6,170.51 872.02,170.51 872.02,183.87 853.6,183.87" fill="none" stroke="#c4c4c4" stroke-width="0.4" stroke-linejoin="round" />
<polygon points="853.6,230.89 872.02,230.89 872.02,217.53 853.6,217.53" fill="none" stroke="#c4c4c4" stroke-width="0.4" stroke-linejoin="round" />
<polygon points="854.2,174.37 859.33,173.2 860.79,180.11 855.93,181.04" fill="#fff" stroke="#2b2b2b" stroke-width="0.7" stroke-linejoin="round" />
<polygon points="854.2,227.03 859.33,228.2 860.79,221.29 855.93,220.36" fill="#fff" stroke="#2b2b2b" stroke-width="0.7" stroke-linejoin="round" />
<polygon points="860.01,173.2 865.12,173.2 864.61,179.77 861.15,179.77" fill="#fff" stroke="#2b2b2b" stroke-width="0.7" stroke-linejoin="round" />
<polygon points="860.01,228.2 865.12,228.2 864.61,221.63 861.15,221.63" fill="#fff" stroke="#2b2b2b" stroke-width="0.7" stroke-linejoin="round" />
<polygon points="865.81,173.28 871.11,174.47 868.92,181.04 864.92,180.11" fill="#fff" stroke="#2b2b2b" stroke-width="0.7" stroke-linejoin="round" />
<polygon points="865.81,228.12 871.11,226.93 868.92,220.36 864.92,221.29" fill="#fff" stroke="#2b2b2b" stroke-width="0.7" stroke-linejoin="round" />
<path d="M852.6 174.37 Q862.7 170.59 872.85 174.7 " fill="none" stroke="#2b2b2b" stroke-width="0.7" stroke-linejoin="round" stroke-linecap="round" />
<path d="M852.6 227.03 Q862.7 230.81 872.85 226.7 " fill="none" stroke="#2b2b2b" stroke-width="0.7" stroke-linejoin="round" stroke-linecap="round" />
<path d="M855.24 180.89 Q862.7 178.4 869.8 181.14 " fill="none" stroke="#555" stroke-width="0.6" stroke-linejoin="round" stroke-linecap="round" />
<path d="M855.24 220.51 Q862.7 223.0 869.8 220.26 " fill="none" stroke="#555" stroke-width="0.6" stroke-linejoin="round" stroke-linecap="round" />
<line x1="852.599" y1="174.374" x2="852.599" y2="180.17000000000002" stroke="#2b2b2b" stroke-width="0.6" />
<line x1="852.599" y1="227.03" x2="852.599" y2="221.23" stroke="#2b2b2b" stroke-width="0.6" />
<line x1="872.8453999999999" y1="174.696" x2="872.8453999999999" y2="180.17000000000002" stroke="#2b2b2b" stroke-width="0.6" />
<line x1="872.8453999999999" y1="226.7" x2="872.8453999999999" y2="221.23" stroke="#2b2b2b" stroke-width="0.6" />
<line x1="849.1" y1="179.848" x2="876.3" y2="179.848" stroke="#999" stroke-width="0.35" />
<line x1="849.1" y1="221.55" x2="876.3" y2="221.55" stroke="#999" stroke-width="0.35" />
<line x1="856.706" y1="176.95" x2="858.482" y2="176.95" stroke="#777" stroke-width="0.35" />
<line x1="856.706" y1="224.45" x2="858.482" y2="224.45" stroke="#777" stroke-width="0.35" />
<line x1="861.812" y1="176.95" x2="863.588" y2="176.95" stroke="#777" stroke-width="0.35" />
<line x1="861.812" y1="224.45" x2="863.588" y2="224.45" stroke="#777" stroke-width="0.35" />
<line x1="866.696" y1="176.95" x2="868.472" y2="176.95" stroke="#777" stroke-width="0.35" />
<line x1="866.696" y1="224.45" x2="868.472" y2="224.45" stroke="#777" stroke-width="0.35" />
<polygon points="571.6,140 579.2,140 579.2,146 616.7,146 616.7,165.8 605,165.8 605,162.8 579.4,162.8 579.4,166.7 564.4,166.7 564.4,160 570.6,160 571.6,157.5" fill="url(#h2)" stroke="#2b2b2b" stroke-width="0.9" stroke-linejoin="round" />
<polygon points="571.6,261.4 579.2,261.4 579.2,255.4 616.7,255.4 616.7,235.6 605,235.6 605,238.6 579.4,238.6 579.4,234.7 564.4,234.7 564.4,241.4 570.6,241.4 571.6,243.9" fill="url(#h2)" stroke="#2b2b2b" stroke-width="0.9" stroke-linejoin="round" />
<polygon points="722.4,140 714.6,140 714.6,146 692.7,146 692.7,165.8 704.4,165.8 704.4,162.8 729.4,162.8 729.4,166.3 735.6,166.3 735.6,160 727.2,160 724.6,155.6 722.4,148" fill="url(#h2)" stroke="#2b2b2b" stroke-width="0.9" stroke-linejoin="round" />
<polygon points="722.4,261.4 714.6,261.4 714.6,255.4 692.7,255.4 692.7,235.6 704.4,235.6 704.4,238.6 729.4,238.6 729.4,235.1 735.6,235.1 735.6,241.4 727.2,241.4 724.6,245.8 722.4,253.4" fill="url(#h2)" stroke="#2b2b2b" stroke-width="0.9" stroke-linejoin="round" />
<polygon points="608.3,146.8 616.4,146.8 616.4,160.2 608.3,160.2" fill="#fff" stroke="#555" stroke-width="0.5" stroke-linejoin="round" />
<polygon points="608.3,254.6 616.4,254.6 616.4,241.2 608.3,241.2" fill="#fff" stroke="#555" stroke-width="0.5" stroke-linejoin="round" />
<line x1="608.6" y1="148.2" x2="616.2" y2="148.2" stroke="#444" stroke-width="0.9" stroke-dasharray="1.6 1.0"/>
<line x1="608.6" y1="253.2" x2="616.2" y2="253.2" stroke="#444" stroke-width="0.9" stroke-dasharray="1.6 1.0"/>
<line x1="608.6" y1="158.8" x2="616.2" y2="158.8" stroke="#444" stroke-width="0.9" stroke-dasharray="1.6 1.0"/>
<line x1="608.6" y1="242.6" x2="616.2" y2="242.6" stroke="#444" stroke-width="0.9" stroke-dasharray="1.6 1.0"/>
<polygon points="608.3,149.8 616.4,149.8 616.4,157.3 608.3,157.3" fill="#fff" stroke="#222" stroke-width="1.0" stroke-linejoin="round" />
<polygon points="608.3,251.6 616.4,251.6 616.4,244.1 608.3,244.1" fill="#fff" stroke="#222" stroke-width="1.0" stroke-linejoin="round" />
<polygon points="608.3,150.6 604.1,153.5 608.3,156.5" fill="#fff" stroke="#2b2b2b" stroke-width="0.7" stroke-linejoin="round" />
<polygon points="608.3,250.8 604.1,247.9 608.3,244.9" fill="#fff" stroke="#2b2b2b" stroke-width="0.7" stroke-linejoin="round" />
<line x1="605.5" y1="153.5" x2="615" y2="153.5" stroke="#777" stroke-width="0.4" />
<line x1="605.5" y1="247.9" x2="615" y2="247.9" stroke="#777" stroke-width="0.4" />
<polygon points="616.4,145.4 621.9,145.4 621.9,180.4 616.4,180.4" fill="url(#h4)" stroke="#2b2b2b" stroke-width="0.9" stroke-linejoin="round" />
<polygon points="616.4,256.0 621.9,256.0 621.9,221.0 616.4,221.0" fill="url(#h4)" stroke="#2b2b2b" stroke-width="0.9" stroke-linejoin="round" />
<polygon points="616.9,150.2 621.4,150.2 621.4,157.2 616.9,157.2" fill="#fff" stroke="#555" stroke-width="0.5" stroke-linejoin="round" />
<polygon points="616.9,251.2 621.4,251.2 621.4,244.2 616.9,244.2" fill="#fff" stroke="#555" stroke-width="0.5" stroke-linejoin="round" />
<line x1="605" y1="180.4" x2="616.4" y2="180.4" stroke="#2b2b2b" stroke-width="0.8" />
<line x1="605" y1="221.0" x2="616.4" y2="221.0" stroke="#2b2b2b" stroke-width="0.8" />
<polygon points="701.1,146.8 693.0,146.8 693.0,160.2 701.1,160.2" fill="#fff" stroke="#555" stroke-width="0.5" stroke-linejoin="round" />
<polygon points="701.1,254.6 693.0,254.6 693.0,241.2 701.1,241.2" fill="#fff" stroke="#555" stroke-width="0.5" stroke-linejoin="round" />
<line x1="700.8" y1="148.2" x2="693.2" y2="148.2" stroke="#444" stroke-width="0.9" stroke-dasharray="1.6 1.0"/>
<line x1="700.8" y1="253.2" x2="693.2" y2="253.2" stroke="#444" stroke-width="0.9" stroke-dasharray="1.6 1.0"/>
<line x1="700.8" y1="158.8" x2="693.2" y2="158.8" stroke="#444" stroke-width="0.9" stroke-dasharray="1.6 1.0"/>
<line x1="700.8" y1="242.6" x2="693.2" y2="242.6" stroke="#444" stroke-width="0.9" stroke-dasharray="1.6 1.0"/>
<polygon points="701.1,149.8 693.0,149.8 693.0,157.3 701.1,157.3" fill="#fff" stroke="#222" stroke-width="1.0" stroke-linejoin="round" />
<polygon points="701.1,251.6 693.0,251.6 693.0,244.1 701.1,244.1" fill="#fff" stroke="#222" stroke-width="1.0" stroke-linejoin="round" />
<polygon points="701.1,150.6 705.3,153.5 701.1,156.5" fill="#fff" stroke="#2b2b2b" stroke-width="0.7" stroke-linejoin="round" />
<polygon points="701.1,250.8 705.3,247.9 701.1,244.9" fill="#fff" stroke="#2b2b2b" stroke-width="0.7" stroke-linejoin="round" />
<line x1="703.9" y1="153.5" x2="694.4" y2="153.5" stroke="#777" stroke-width="0.4" />
<line x1="703.9" y1="247.9" x2="694.4" y2="247.9" stroke="#777" stroke-width="0.4" />
<polygon points="693.0,145.4 687.5,145.4 687.5,180.4 693.0,180.4" fill="url(#h4)" stroke="#2b2b2b" stroke-width="0.9" stroke-linejoin="round" />
<polygon points="693.0,256.0 687.5,256.0 687.5,221.0 693.0,221.0" fill="url(#h4)" stroke="#2b2b2b" stroke-width="0.9" stroke-linejoin="round" />
<polygon points="692.5,150.2 688.0,150.2 688.0,157.2 692.5,157.2" fill="#fff" stroke="#555" stroke-width="0.5" stroke-linejoin="round" />
<polygon points="692.5,251.2 688.0,251.2 688.0,244.2 692.5,244.2" fill="#fff" stroke="#555" stroke-width="0.5" stroke-linejoin="round" />
<line x1="704.4" y1="180.4" x2="693.0" y2="180.4" stroke="#2b2b2b" stroke-width="0.8" />
<line x1="704.4" y1="221.0" x2="693.0" y2="221.0" stroke="#2b2b2b" stroke-width="0.8" />
<polygon points="579.4,162.8 605,162.8 605,181.7 579.4,181.7" fill="#fff" stroke="#2b2b2b" stroke-width="0.9" stroke-linejoin="round" />
<polygon points="579.4,238.6 605,238.6 605,219.7 579.4,219.7" fill="#fff" stroke="#2b2b2b" stroke-width="0.9" stroke-linejoin="round" />
<polygon points="581.7,164.69 602.95,164.69 602.95,180.38 581.7,180.38" fill="none" stroke="#c4c4c4" stroke-width="0.4" stroke-linejoin="round" />
<polygon points="581.7,236.71 602.95,236.71 602.95,221.02 581.7,221.02" fill="none" stroke="#c4c4c4" stroke-width="0.4" stroke-linejoin="round" />
<polygon points="582.4,169.23 588.31,167.85 590.0,175.95 584.39,177.05" fill="#fff" stroke="#2b2b2b" stroke-width="0.7" stroke-linejoin="round" />
<polygon points="582.4,232.17 588.31,233.55 590.0,225.45 584.39,224.35" fill="#fff" stroke="#2b2b2b" stroke-width="0.7" stroke-linejoin="round" />
<polygon points="589.1,167.85 594.99,167.85 594.4,175.56 590.41,175.56" fill="#fff" stroke="#2b2b2b" stroke-width="0.7" stroke-linejoin="round" />
<polygon points="589.1,233.55 594.99,233.55 594.4,225.84 590.41,225.84" fill="#fff" stroke="#2b2b2b" stroke-width="0.7" stroke-linejoin="round" />
<polygon points="595.78,167.94 601.9,169.34 599.37,177.05 594.76,175.95" fill="#fff" stroke="#2b2b2b" stroke-width="0.7" stroke-linejoin="round" />
<polygon points="595.78,233.46 601.9,232.06 599.37,224.35 594.76,225.45" fill="#fff" stroke="#2b2b2b" stroke-width="0.7" stroke-linejoin="round" />
<path d="M580.55 169.23 Q592.2 164.78 603.9 169.6 " fill="none" stroke="#2b2b2b" stroke-width="0.7" stroke-linejoin="round" stroke-linecap="round" />
<path d="M580.55 232.17 Q592.2 236.62 603.9 231.8 " fill="none" stroke="#2b2b2b" stroke-width="0.7" stroke-linejoin="round" stroke-linecap="round" />
<path d="M583.6 176.88 Q592.2 173.95 600.39 177.16 " fill="none" stroke="#555" stroke-width="0.6" stroke-linejoin="round" stroke-linecap="round" />
<path d="M583.6 224.52 Q592.2 227.45 600.39 224.24 " fill="none" stroke="#555" stroke-width="0.6" stroke-linejoin="round" stroke-linecap="round" />
<line x1="580.552" y1="169.226" x2="580.552" y2="176.03" stroke="#2b2b2b" stroke-width="0.6" />
<line x1="580.552" y1="232.17" x2="580.552" y2="225.37" stroke="#2b2b2b" stroke-width="0.6" />
<line x1="603.8992" y1="169.604" x2="603.8992" y2="176.03" stroke="#2b2b2b" stroke-width="0.6" />
<line x1="603.8992" y1="231.8" x2="603.8992" y2="225.37" stroke="#2b2b2b" stroke-width="0.6" />
<line x1="576.9" y1="175.652" x2="607.5" y2="175.652" stroke="#999" stroke-width="0.35" />
<line x1="576.9" y1="225.75" x2="607.5" y2="225.75" stroke="#999" stroke-width="0.35" />
<line x1="585.288" y1="172.25" x2="587.336" y2="172.25" stroke="#777" stroke-width="0.35" />
<line x1="585.288" y1="229.15" x2="587.336" y2="229.15" stroke="#777" stroke-width="0.35" />
<line x1="591.1759999999999" y1="172.25" x2="593.224" y2="172.25" stroke="#777" stroke-width="0.35" />
<line x1="591.1759999999999" y1="229.15" x2="593.224" y2="229.15" stroke="#777" stroke-width="0.35" />
<line x1="596.808" y1="172.25" x2="598.856" y2="172.25" stroke="#777" stroke-width="0.35" />
<line x1="596.808" y1="229.15" x2="598.856" y2="229.15" stroke="#777" stroke-width="0.35" />
<polygon points="704.4,162.8 729.4,162.8 729.4,181.7 704.4,181.7" fill="#fff" stroke="#2b2b2b" stroke-width="0.9" stroke-linejoin="round" />
<polygon points="704.4,238.6 729.4,238.6 729.4,219.7 704.4,219.7" fill="#fff" stroke="#2b2b2b" stroke-width="0.9" stroke-linejoin="round" />
<polygon points="706.65,164.69 727.4,164.69 727.4,180.38 706.65,180.38" fill="none" stroke="#c4c4c4" stroke-width="0.4" stroke-linejoin="round" />
<polygon points="706.65,236.71 727.4,236.71 727.4,221.02 706.65,221.02" fill="none" stroke="#c4c4c4" stroke-width="0.4" stroke-linejoin="round" />
<polygon points="707.32,169.23 713.1,167.85 714.75,175.95 709.27,177.05" fill="#fff" stroke="#2b2b2b" stroke-width="0.7" stroke-linejoin="round" />
<polygon points="707.32,232.17 713.1,233.55 714.75,225.45 709.27,224.35" fill="#fff" stroke="#2b2b2b" stroke-width="0.7" stroke-linejoin="round" />
<polygon points="713.88,167.85 719.62,167.85 719.05,175.56 715.15,175.56" fill="#fff" stroke="#2b2b2b" stroke-width="0.7" stroke-linejoin="round" />
<polygon points="713.88,233.55 719.62,233.55 719.05,225.84 715.15,225.84" fill="#fff" stroke="#2b2b2b" stroke-width="0.7" stroke-linejoin="round" />
<polygon points="720.4,167.94 726.38,169.34 723.9,177.05 719.4,175.95" fill="#fff" stroke="#2b2b2b" stroke-width="0.7" stroke-linejoin="round" />
<polygon points="720.4,233.46 726.38,232.06 723.9,224.35 719.4,225.45" fill="#fff" stroke="#2b2b2b" stroke-width="0.7" stroke-linejoin="round" />
<path d="M705.52 169.23 Q716.9 164.78 728.32 169.6 " fill="none" stroke="#2b2b2b" stroke-width="0.7" stroke-linejoin="round" stroke-linecap="round" />
<path d="M705.52 232.17 Q716.9 236.62 728.32 231.8 " fill="none" stroke="#2b2b2b" stroke-width="0.7" stroke-linejoin="round" stroke-linecap="round" />
<path d="M708.5 176.88 Q716.9 173.95 724.9 177.16 " fill="none" stroke="#555" stroke-width="0.6" stroke-linejoin="round" stroke-linecap="round" />
<path d="M708.5 224.52 Q716.9 227.45 724.9 224.24 " fill="none" stroke="#555" stroke-width="0.6" stroke-linejoin="round" stroke-linecap="round" />
<line x1="705.525" y1="169.226" x2="705.525" y2="176.03" stroke="#2b2b2b" stroke-width="0.6" />
<line x1="705.525" y1="232.17" x2="705.525" y2="225.37" stroke="#2b2b2b" stroke-width="0.6" />
<line x1="728.3249999999999" y1="169.604" x2="728.3249999999999" y2="176.03" stroke="#2b2b2b" stroke-width="0.6" />
<line x1="728.3249999999999" y1="231.8" x2="728.3249999999999" y2="225.37" stroke="#2b2b2b" stroke-width="0.6" />
<line x1="701.9" y1="175.652" x2="731.9" y2="175.652" stroke="#999" stroke-width="0.35" />
<line x1="701.9" y1="225.75" x2="731.9" y2="225.75" stroke="#999" stroke-width="0.35" />
<line x1="710.15" y1="172.25" x2="712.15" y2="172.25" stroke="#777" stroke-width="0.35" />
<line x1="710.15" y1="229.15" x2="712.15" y2="229.15" stroke="#777" stroke-width="0.35" />
<line x1="715.9" y1="172.25" x2="717.9" y2="172.25" stroke="#777" stroke-width="0.35" />
<line x1="715.9" y1="229.15" x2="717.9" y2="229.15" stroke="#777" stroke-width="0.35" />
<line x1="721.4" y1="172.25" x2="723.4" y2="172.25" stroke="#777" stroke-width="0.35" />
<line x1="721.4" y1="229.15" x2="723.4" y2="229.15" stroke="#777" stroke-width="0.35" />
<polygon points="571.6,102.2 571.6,84.4 572.3,83.4 573.6,83.4 574.3,84.4 574.3,87.2 622.4,87.2 622.4,84.4 623.1,83.4 624.9,83.4 625.7,84.4 625.7,94.8 579.2,94.8 579.2,102.2" fill="url(#h2)" stroke="#2b2b2b" stroke-width="0.9" stroke-linejoin="round" />
<polygon points="571.6,299.2 571.6,317.0 572.3,318.0 573.6,318.0 574.3,317.0 574.3,314.2 622.4,314.2 622.4,317.0 623.1,318.0 624.9,318.0 625.7,317.0 625.7,306.6 579.2,306.6 579.2,299.2" fill="url(#h2)" stroke="#2b2b2b" stroke-width="0.9" stroke-linejoin="round" />
<line x1="571.6" y1="102.2" x2="571.6" y2="140" stroke="#2b2b2b" stroke-width="0.9" />
<line x1="571.6" y1="299.2" x2="571.6" y2="261.4" stroke="#2b2b2b" stroke-width="0.9" />
<line x1="579.2" y1="102.2" x2="579.2" y2="140" stroke="#2b2b2b" stroke-width="0.9" />
<line x1="579.2" y1="299.2" x2="579.2" y2="261.4" stroke="#2b2b2b" stroke-width="0.9" />
<line x1="620.6" y1="94.8" x2="588.2" y2="146" stroke="#2b2b2b" stroke-width="0.8" />
<line x1="620.6" y1="306.6" x2="588.2" y2="255.4" stroke="#2b2b2b" stroke-width="0.8" />
<polygon points="722.4,102.2 722.4,84.4 721.7,83.4 720.6,83.4 719.9,84.4 719.9,87.2 687.2,87.2 687.2,84.4 686.5,83.4 685.1,83.4 684.4,84.4 684.4,94.8 714.6,94.8 714.6,102.2" fill="url(#h2)" stroke="#2b2b2b" stroke-width="0.9" stroke-linejoin="round" />
<polygon points="722.4,299.2 722.4,317.0 721.7,318.0 720.6,318.0 719.9,317.0 719.9,314.2 687.2,314.2 687.2,317.0 686.5,318.0 685.1,318.0 684.4,317.0 684.4,306.6 714.6,306.6 714.6,299.2" fill="url(#h2)" stroke="#2b2b2b" stroke-width="0.9" stroke-linejoin="round" />
<line x1="722.4" y1="102.2" x2="722.4" y2="140" stroke="#2b2b2b" stroke-width="0.9" />
<line x1="722.4" y1="299.2" x2="722.4" y2="261.4" stroke="#2b2b2b" stroke-width="0.9" />
<line x1="714.6" y1="102.2" x2="714.6" y2="140" stroke="#2b2b2b" stroke-width="0.9" />
<line x1="714.6" y1="299.2" x2="714.6" y2="261.4" stroke="#2b2b2b" stroke-width="0.9" />
<line x1="688.4" y1="94.8" x2="706.8" y2="146" stroke="#2b2b2b" stroke-width="0.8" />
<line x1="688.4" y1="306.6" x2="706.8" y2="255.4" stroke="#2b2b2b" stroke-width="0.8" />
<path d="M636.2 183.9 V164.2 Q636.2 162.6 637.8 162.6 H650 V168.9 H659.4 V162.6 H671.7 Q673.3 162.6 673.3 164.2 V183.9" fill="none" stroke="#2b2b2b" stroke-width="0.9" stroke-linejoin="round" stroke-linecap="round" />
<line x1="636.2" y1="183.9" x2="647.2" y2="183.9" stroke="#2b2b2b" stroke-width="0.9" />
<line x1="662.4" y1="183.9" x2="673.3" y2="183.9" stroke="#2b2b2b" stroke-width="0.9" />
<line x1="647.2" y1="183.9" x2="647.2" y2="200.6" stroke="#2b2b2b" stroke-width="0.9" />
<line x1="662.6" y1="183.9" x2="662.6" y2="200.6" stroke="#2b2b2b" stroke-width="0.9" />
<line x1="636.2" y1="178.4" x2="673.3" y2="178.4" stroke="#2b2b2b" stroke-width="0.9" />
<line x1="636.2" y1="180.5" x2="673.3" y2="180.5" stroke="#2b2b2b" stroke-width="1.3" />
<line x1="621.8" y1="180.6" x2="636.2" y2="180.6" stroke="#2b2b2b" stroke-width="0.8" />
<line x1="621.8" y1="220.8" x2="636.2" y2="220.8" stroke="#2b2b2b" stroke-width="0.8" />
<line x1="673.3" y1="180.6" x2="687.6" y2="180.6" stroke="#2b2b2b" stroke-width="0.8" />
<line x1="673.3" y1="220.8" x2="687.6" y2="220.8" stroke="#2b2b2b" stroke-width="0.8" />
<line x1="632.4" y1="180.6" x2="632.4" y2="220.8" stroke="#2b2b2b" stroke-width="0.85" />
<line x1="676.9" y1="180.6" x2="676.9" y2="220.8" stroke="#2b2b2b" stroke-width="0.85" />
<line x1="621.8" y1="189.4" x2="632.4" y2="189.4" stroke="#2b2b2b" stroke-width="0.8" />
<line x1="621.8" y1="212.0" x2="632.4" y2="212.0" stroke="#2b2b2b" stroke-width="0.8" />
<line x1="676.9" y1="189.4" x2="687.6" y2="189.4" stroke="#2b2b2b" stroke-width="0.8" />
<line x1="676.9" y1="212.0" x2="687.6" y2="212.0" stroke="#2b2b2b" stroke-width="0.8" />
<polygon points="636.4,206.1 672.6,206.1 672.6,216.7 636.4,216.7" fill="url(#h4)" stroke="#2b2b2b" stroke-width="0.9" stroke-linejoin="round" />
<polygon points="647.2,220.6 662.8,220.6 662.8,233.3 647.2,233.3" fill="url(#h4)" stroke="#2b2b2b" stroke-width="0.8" stroke-linejoin="round" />
<polyline points="636.4,216.7 636.4,233.3 647.2,233.3 647.2,238.1 650,238.1 650,233.3 659.6,233.3 659.6,238.1 662.8,238.1 662.8,233.3 672.6,233.3 672.6,216.7" fill="none" stroke="#2b2b2b" stroke-width="0.9" stroke-linejoin="round" />
<line x1="647.2" y1="216.7" x2="647.2" y2="233.3" stroke="#2b2b2b" stroke-width="0.9" />
<line x1="662.8" y1="216.7" x2="662.8" y2="233.3" stroke="#2b2b2b" stroke-width="0.9" />
<line x1="650" y1="220.6" x2="650" y2="233.3" stroke="#2b2b2b" stroke-width="0.7" />
<line x1="659.6" y1="220.6" x2="659.6" y2="233.3" stroke="#2b2b2b" stroke-width="0.7" />
<line x1="636.4" y1="199.4" x2="636.4" y2="206.1" stroke="#2b2b2b" stroke-width="0.8" />
<line x1="672.6" y1="199.4" x2="672.6" y2="206.1" stroke="#2b2b2b" stroke-width="0.8" />
<rect x="630.8" y="195.6" width="48" height="10" rx="5" fill="none" stroke="#2b2b2b" stroke-width="0.9"/>
<circle cx="636.1" cy="200.7" r="2" fill="#fff" stroke="#2b2b2b" stroke-width="0.7"/>
<circle cx="673.6" cy="200.7" r="2" fill="#fff" stroke="#2b2b2b" stroke-width="0.7"/>
<line x1="654.8" y1="159" x2="654.8" y2="242" stroke="#555" stroke-width="0.4" stroke-dasharray="12 2 2 2"/>
<line x1="236.3" y1="139.8" x2="252.2" y2="139.8" stroke="#3a3a3a" stroke-width="0.6" />
<line x1="252.2" y1="139.8" x2="257.5" y2="160.8" stroke="#3a3a3a" stroke-width="0.6" />
<text x="244.0" y="136.8" text-anchor="middle" font-family="&quot;Liberation Sans&quot;, sans-serif" font-size="13" fill="#3a3a3a">1</text>
<line x1="258.7" y1="139.8" x2="274.2" y2="139.8" stroke="#3a3a3a" stroke-width="0.6" />
<line x1="274.2" y1="139.8" x2="283" y2="162.5" stroke="#3a3a3a" stroke-width="0.6" />
<circle cx="283" cy="162.5" r="1.15" fill="#1a1a1a"/>
<text x="266.3" y="136.8" text-anchor="middle" font-family="&quot;Liberation Sans&quot;, sans-serif" font-size="13" fill="#3a3a3a">2</text>
<line x1="280.8" y1="139.8" x2="295.8" y2="139.8" stroke="#3a3a3a" stroke-width="0.6" />
<line x1="295.8" y1="139.8" x2="316.6" y2="161.7" stroke="#3a3a3a" stroke-width="0.6" />
<circle cx="316.6" cy="161.7" r="1.15" fill="#1a1a1a"/>
<text x="288.3" y="136.8" text-anchor="middle" font-family="&quot;Liberation Sans&quot;, sans-serif" font-size="13" fill="#3a3a3a">3</text>
<line x1="357.6" y1="139.8" x2="376" y2="139.8" stroke="#3a3a3a" stroke-width="0.6" />
<line x1="357.6" y1="139.8" x2="344.4" y2="168" stroke="#3a3a3a" stroke-width="0.6" />
<circle cx="344.4" cy="168" r="1.15" fill="#1a1a1a"/>
<text x="367.5" y="136.8" text-anchor="middle" font-family="&quot;Liberation Sans&quot;, sans-serif" font-size="13" fill="#3a3a3a">4</text>
<line x1="380" y1="139.8" x2="399.2" y2="139.8" stroke="#3a3a3a" stroke-width="0.6" />
<line x1="380" y1="139.8" x2="372.2" y2="162.8" stroke="#3a3a3a" stroke-width="0.6" />
<circle cx="372.2" cy="162.8" r="1.15" fill="#1a1a1a"/>
<text x="390.4" y="136.8" text-anchor="middle" font-family="&quot;Liberation Sans&quot;, sans-serif" font-size="13" fill="#3a3a3a">5</text>
<line x1="425.3" y1="139.8" x2="443.5" y2="139.8" stroke="#3a3a3a" stroke-width="0.6" />
<line x1="425.3" y1="139.8" x2="407" y2="186.3" stroke="#3a3a3a" stroke-width="0.6" />
<circle cx="407" cy="186.3" r="1.15" fill="#1a1a1a"/>
<text x="435.8" y="136.8" text-anchor="middle" font-family="&quot;Liberation Sans&quot;, sans-serif" font-size="13" fill="#3a3a3a">6</text>
<line x1="547.8" y1="139.8" x2="563.6" y2="139.8" stroke="#3a3a3a" stroke-width="0.6" />
<line x1="563.6" y1="139.8" x2="573.9" y2="161.7" stroke="#3a3a3a" stroke-width="0.6" />
<circle cx="573.9" cy="161.7" r="1.15" fill="#1a1a1a"/>
<text x="555.7" y="136.8" text-anchor="middle" font-family="&quot;Liberation Sans&quot;, sans-serif" font-size="13" fill="#3a3a3a">7</text>
<line x1="623" y1="139.8" x2="639.2" y2="139.8" stroke="#3a3a3a" stroke-width="0.6" />
<line x1="623" y1="139.8" x2="619.4" y2="148.3" stroke="#3a3a3a" stroke-width="0.6" />
<text x="632" y="136.8" text-anchor="middle" font-family="&quot;Liberation Sans&quot;, sans-serif" font-size="13" fill="#3a3a3a">8</text>
<line x1="651.7" y1="139.8" x2="667.4" y2="139.8" stroke="#3a3a3a" stroke-width="0.6" />
<line x1="651.7" y1="139.8" x2="643.3" y2="165.6" stroke="#3a3a3a" stroke-width="0.6" />
<circle cx="643.3" cy="165.6" r="1.15" fill="#1a1a1a"/>
<text x="660" y="136.8" text-anchor="middle" font-family="&quot;Liberation Sans&quot;, sans-serif" font-size="13" fill="#3a3a3a">9</text>
<line x1="725" y1="139.8" x2="741.7" y2="139.8" stroke="#3a3a3a" stroke-width="0.6" />
<line x1="725" y1="139.8" x2="718.9" y2="152.8" stroke="#3a3a3a" stroke-width="0.6" />
<circle cx="718.9" cy="152.8" r="1.15" fill="#1a1a1a"/>
<text x="733.7" y="136.8" text-anchor="middle" font-family="&quot;Liberation Sans&quot;, sans-serif" font-size="13" fill="#3a3a3a">10</text>
<line x1="243.5" y1="276" x2="260" y2="276" stroke="#3a3a3a" stroke-width="0.6" />
<line x1="260" y1="276" x2="266.2" y2="231.2" stroke="#3a3a3a" stroke-width="0.6" />
<circle cx="266.2" cy="231.2" r="1.15" fill="#1a1a1a"/>
<text x="250.2" y="273.0" text-anchor="middle" font-family="&quot;Liberation Sans&quot;, sans-serif" font-size="13" fill="#3a3a3a">13</text>
<line x1="748" y1="276" x2="764" y2="276" stroke="#3a3a3a" stroke-width="0.6" />
<line x1="748" y1="276" x2="724.8" y2="236" stroke="#3a3a3a" stroke-width="0.6" />
<circle cx="724.8" cy="236" r="1.15" fill="#1a1a1a"/>
<text x="756" y="273.0" text-anchor="middle" font-family="&quot;Liberation Sans&quot;, sans-serif" font-size="13" fill="#3a3a3a">12</text>
<line x1="775.2" y1="276" x2="790.7" y2="276" stroke="#3a3a3a" stroke-width="0.6" />
<line x1="790.7" y1="276" x2="807.2" y2="232" stroke="#3a3a3a" stroke-width="0.6" />
<circle cx="807.2" cy="232" r="1.15" fill="#1a1a1a"/>
<text x="783.3" y="273.0" text-anchor="middle" font-family="&quot;Liberation Sans&quot;, sans-serif" font-size="13" fill="#3a3a3a">11</text>
<line x1="465.3" y1="282.7" x2="488" y2="282.7" stroke="#3a3a3a" stroke-width="0.6" />
<line x1="465.3" y1="282.7" x2="452.8" y2="245.3" stroke="#3a3a3a" stroke-width="0.6" />
<circle cx="452.8" cy="245.3" r="1.15" fill="#1a1a1a"/>
<text x="476.5" y="279.7" text-anchor="middle" font-family="&quot;Liberation Sans&quot;, sans-serif" font-size="13" fill="#3a3a3a">14</text>
<line x1="778.7" y1="299.2" x2="800.8" y2="299.2" stroke="#3a3a3a" stroke-width="0.6" />
<line x1="778.7" y1="299.2" x2="759.2" y2="243.5" stroke="#3a3a3a" stroke-width="0.6" />
<circle cx="759.2" cy="243.5" r="1.15" fill="#1a1a1a"/>
<text x="789.9" y="296.2" text-anchor="middle" font-family="&quot;Liberation Sans&quot;, sans-serif" font-size="13" fill="#3a3a3a">15</text>
</svg>
<svg class="dr" width="900" height="638" viewBox="0 0 900 638">
<clipPath id="cp_t1"><rect x="13.1" y="282" width="213.1" height="289.7" rx="19.5" ry="19.5"/></clipPath>
<g clip-path="url(#cp_t1)" class="t1">
<rect class="b0" x="13.1" y="282" width="63.9" height="33.8"/>
<rect class="b1" x="79.1" y="282" width="83.2" height="33.8"/>
<rect class="b2" x="164.4" y="282" width="61.8" height="33.8"/>
<rect class="b0" x="13.1" y="318.0" width="63.9" height="23.75"/>
<rect class="b1" x="79.1" y="318.0" width="83.2" height="23.75"/>
<rect class="b2" x="164.4" y="318.0" width="61.8" height="23.75"/>
<rect class="b0" x="13.1" y="343.25" width="63.9" height="24.1"/>
<rect class="b1" x="79.1" y="343.25" width="83.2" height="24.1"/>
<rect class="b2" x="164.4" y="343.25" width="61.8" height="24.1"/>
<rect class="b0" x="13.1" y="368.85" width="63.9" height="24.1"/>
<rect class="b1" x="79.1" y="368.85" width="83.2" height="24.1"/>
<rect class="b2" x="164.4" y="368.85" width="61.8" height="24.1"/>
<rect class="b0" x="13.1" y="394.45" width="63.9" height="24.1"/>
<rect class="b1" x="79.1" y="394.45" width="83.2" height="24.1"/>
<rect class="b2" x="164.4" y="394.45" width="61.8" height="24.1"/>
<rect class="b0" x="13.1" y="420.05" width="63.9" height="24.1"/>
<rect class="b1" x="79.1" y="420.05" width="83.2" height="24.1"/>
<rect class="b2" x="164.4" y="420.05" width="61.8" height="24.1"/>
<rect class="b0" x="13.1" y="445.65" width="63.9" height="24.1"/>
<rect class="b1" x="79.1" y="445.65" width="83.2" height="24.1"/>
<rect class="b2" x="164.4" y="445.65" width="61.8" height="24.1"/>
<rect class="b0" x="13.1" y="471.25" width="63.9" height="24.1"/>
<rect class="b1" x="79.1" y="471.25" width="83.2" height="24.1"/>
<rect class="b2" x="164.4" y="471.25" width="61.8" height="24.1"/>
<rect class="b0" x="13.1" y="496.85" width="63.9" height="24.1"/>
<rect class="b1" x="79.1" y="496.85" width="83.2" height="24.1"/>
<rect class="b2" x="164.4" y="496.85" width="61.8" height="24.1"/>
<rect class="b0" x="13.1" y="522.45" width="63.9" height="24.1"/>
<rect class="b1" x="79.1" y="522.45" width="83.2" height="24.1"/>
<rect class="b2" x="164.4" y="522.45" width="61.8" height="24.1"/>
<rect class="b0" x="13.1" y="548.05" width="63.9" height="23.65"/>
<rect class="b1" x="79.1" y="548.05" width="83.2" height="23.65"/>
<rect class="b2" x="164.4" y="548.05" width="61.8" height="23.65"/>
</g>
<clipPath id="cp_t2"><rect x="263.7" y="410.3" width="311.3" height="162.2" rx="20" ry="20"/></clipPath>
<g clip-path="url(#cp_t2)" class="t2">
<rect class="b0" x="263.7" y="410.3" width="63.3" height="33.3"/>
<rect class="b1" x="329.2" y="410.3" width="181.6" height="33.3"/>
<rect class="b2" x="513" y="410.3" width="62" height="33.3"/>
<rect class="b0" x="263.7" y="445.8" width="63.3" height="23.85"/>
<rect class="b1" x="329.2" y="445.8" width="181.6" height="23.85"/>
<rect class="b2" x="513" y="445.8" width="62" height="23.85"/>
<rect class="b0" x="263.7" y="471.15" width="63.3" height="24.2"/>
<rect class="b1" x="329.2" y="471.15" width="181.6" height="24.2"/>
<rect class="b2" x="513" y="471.15" width="62" height="24.2"/>
<rect class="b0" x="263.7" y="496.85" width="63.3" height="24.2"/>
<rect class="b1" x="329.2" y="496.85" width="181.6" height="24.2"/>
<rect class="b2" x="513" y="496.85" width="62" height="24.2"/>
<rect class="b0" x="263.7" y="522.55" width="63.3" height="24.2"/>
<rect class="b1" x="329.2" y="522.55" width="181.6" height="24.2"/>
<rect class="b2" x="513" y="522.55" width="62" height="24.2"/>
<rect class="b0" x="263.7" y="548.25" width="63.3" height="24.25"/>
<rect class="b1" x="329.2" y="548.25" width="181.6" height="24.25"/>
<rect class="b2" x="513" y="548.25" width="62" height="24.25"/>
</g>
</svg>
<div class="c c0 hd" style="left:13.1px;top:285px;width:63.9px;height:30px;line-height:30px">序号</div>
<div class="c c1 hd" style="left:79.1px;top:285px;width:83.2px;height:30px;line-height:30px">名称</div>
<div class="c c2 hd" style="left:164.4px;top:285px;width:61.8px;height:30px;line-height:30px">数量</div>
<div class="c c0" style="left:13.1px;top:319px;width:63.9px;height:24px;line-height:24px">1</div>
<div class="c c1" style="left:79.1px;top:319px;width:83.2px;height:24px;line-height:24px">前卷轴座压盖</div>
<div class="c c2" style="left:164.4px;top:319px;width:61.8px;height:24px;line-height:24px">2</div>
<div class="c c0" style="left:13.1px;top:345px;width:63.9px;height:24px;line-height:24px">2</div>
<div class="c c1" style="left:79.1px;top:345px;width:83.2px;height:24px;line-height:24px">前卷轴座</div>
<div class="c c2" style="left:164.4px;top:345px;width:61.8px;height:24px;line-height:24px">2</div>
<div class="c c0" style="left:13.1px;top:370px;width:63.9px;height:24px;line-height:24px">3</div>
<div class="c c1" style="left:79.1px;top:370px;width:83.2px;height:24px;line-height:24px"><span class="n">M8</span>大齿轮</div>
<div class="c c2" style="left:164.4px;top:370px;width:61.8px;height:24px;line-height:24px">1</div>
<div class="c c0" style="left:13.1px;top:396px;width:63.9px;height:24px;line-height:24px">4</div>
<div class="c c1" style="left:79.1px;top:396px;width:83.2px;height:24px;line-height:24px">挡盘压盖</div>
<div class="c c2" style="left:164.4px;top:396px;width:61.8px;height:24px;line-height:24px">2</div>
<div class="c c0" style="left:13.1px;top:421px;width:63.9px;height:24px;line-height:24px">5</div>
<div class="c c1" style="left:79.1px;top:421px;width:83.2px;height:24px;line-height:24px">挡盘</div>
<div class="c c2" style="left:164.4px;top:421px;width:61.8px;height:24px;line-height:24px">2</div>
<div class="c c0" style="left:13.1px;top:447px;width:63.9px;height:24px;line-height:24px">6</div>
<div class="c c1" style="left:79.1px;top:447px;width:83.2px;height:24px;line-height:24px">前卷轴</div>
<div class="c c2" style="left:164.4px;top:447px;width:61.8px;height:24px;line-height:24px">1</div>
<div class="c c0" style="left:13.1px;top:472px;width:63.9px;height:24px;line-height:24px">7</div>
<div class="c c1" style="left:79.1px;top:472px;width:83.2px;height:24px;line-height:24px">刹车鼓-宽</div>
<div class="c c2" style="left:164.4px;top:472px;width:61.8px;height:24px;line-height:24px">1</div>
<div class="c c0" style="left:13.1px;top:498px;width:63.9px;height:24px;line-height:24px">8</div>
<div class="c c1" style="left:79.1px;top:498px;width:83.2px;height:24px;line-height:24px">克盘</div>
<div class="c c2" style="left:164.4px;top:498px;width:61.8px;height:24px;line-height:24px">2</div>
<div class="c c0" style="left:13.1px;top:523px;width:63.9px;height:24px;line-height:24px">9</div>
<div class="c c1" style="left:79.1px;top:523px;width:83.2px;height:24px;line-height:24px">克心</div>
<div class="c c2" style="left:164.4px;top:523px;width:61.8px;height:24px;line-height:24px">1</div>
<div class="c c0" style="left:13.1px;top:549px;width:63.9px;height:24px;line-height:24px">10</div>
<div class="c c1" style="left:79.1px;top:549px;width:83.2px;height:24px;line-height:24px">刹车鼓-窄</div>
<div class="c c2" style="left:164.4px;top:549px;width:61.8px;height:24px;line-height:24px">1</div>
<div class="c c0 hd" style="left:263.7px;top:414px;width:63.3px;height:30px;line-height:30px">序号</div>
<div class="c c1 hd" style="left:329.2px;top:414px;width:181.6px;height:30px;line-height:30px">名<span style="display:inline-block;width:16.5px"></span>称</div>
<div class="c c2 hd" style="left:513px;top:414px;width:62px;height:30px;line-height:30px">数量</div>
<div class="c c0" style="left:263.7px;top:447px;width:63.3px;height:24px;line-height:24px">11</div>
<div class="c c1" style="left:329.2px;top:447px;width:181.6px;height:24px;line-height:24px">调心滚子轴承<span class="n">22316</span></div>
<div class="c c2" style="left:513px;top:447px;width:62px;height:24px;line-height:24px">2</div>
<div class="c c0" style="left:263.7px;top:473px;width:63.3px;height:24px;line-height:24px">12</div>
<div class="c c1" style="left:329.2px;top:473px;width:181.6px;height:24px;line-height:24px">调心滚子轴承<span class="n">22318</span></div>
<div class="c c2" style="left:513px;top:473px;width:62px;height:24px;line-height:24px">2</div>
<div class="c c0" style="left:263.7px;top:498px;width:63.3px;height:24px;line-height:24px">13</div>
<div class="c c1" style="left:329.2px;top:498px;width:181.6px;height:24px;line-height:24px">调心滚子轴承<span class="n">22314</span></div>
<div class="c c2" style="left:513px;top:498px;width:62px;height:24px;line-height:24px">2</div>
<div class="c c0" style="left:263.7px;top:524px;width:63.3px;height:24px;line-height:24px">14</div>
<div class="c c1" style="left:329.2px;top:524px;width:181.6px;height:24px;line-height:24px">卷筒(长)</div>
<div class="c c2" style="left:513px;top:524px;width:62px;height:24px;line-height:24px">1</div>
<div class="c c0" style="left:263.7px;top:549px;width:63.3px;height:24px;line-height:24px">15</div>
<div class="c c1" style="left:329.2px;top:549px;width:181.6px;height:24px;line-height:24px">卷筒(短)</div>
<div class="c c2" style="left:513px;top:549px;width:62px;height:24px;line-height:24px">1</div>
<svg class="dash" width="900" height="4" viewBox="0 0 900 4"><line x1="7" y1="2" x2="873.3" y2="2" stroke="#a2a2a2" stroke-width="1.6" stroke-dasharray="13.8 7.51"/></svg>
</body>
</html>
